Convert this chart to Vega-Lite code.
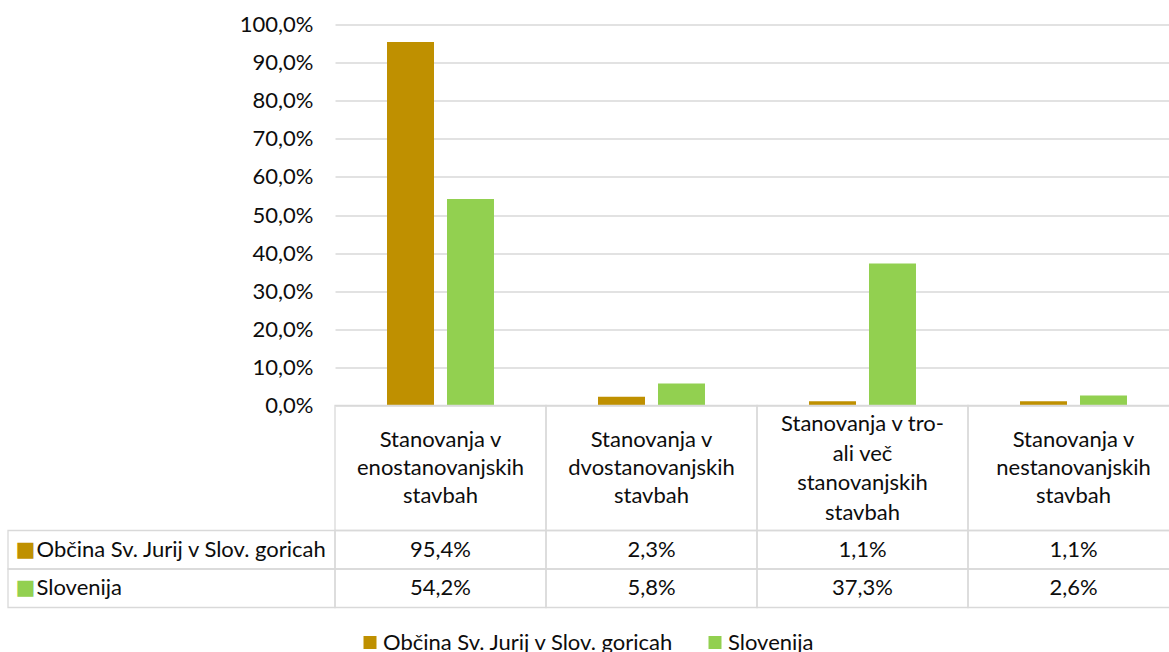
{
  "$schema": "https://vega.github.io/schema/vega-lite/v6.json",
  "padding": {"left": 7, "top": 13.5, "right": 0, "bottom": 0},
  "autosize": {"type": "pad"},
  "background": "white",
  "config": {
    "locale": {"number": {"decimal": ",", "thousands": ".", "grouping": [3], "currency": ["", " €"]}},
    "view": {"stroke": null},
    "font": "Lato",
    "concat": {"spacing": 0}
  },
  "datasets": {
    "bars": [
      {"kategorija": "Stanovanja v enostanovanjskih stavbah", "serija": "Občina Sv. Jurij v Slov. goricah", "delez": 0.954},
      {"kategorija": "Stanovanja v dvostanovanjskih stavbah", "serija": "Občina Sv. Jurij v Slov. goricah", "delez": 0.023},
      {"kategorija": "Stanovanja v tro- ali več stanovanjskih stavbah", "serija": "Občina Sv. Jurij v Slov. goricah", "delez": 0.011},
      {"kategorija": "Stanovanja v nestanovanjskih stavbah", "serija": "Občina Sv. Jurij v Slov. goricah", "delez": 0.011},
      {"kategorija": "Stanovanja v enostanovanjskih stavbah", "serija": "Slovenija", "delez": 0.542},
      {"kategorija": "Stanovanja v dvostanovanjskih stavbah", "serija": "Slovenija", "delez": 0.058},
      {"kategorija": "Stanovanja v tro- ali več stanovanjskih stavbah", "serija": "Slovenija", "delez": 0.373},
      {"kategorija": "Stanovanja v nestanovanjskih stavbah", "serija": "Slovenija", "delez": 0.026}
    ],
    "kategorije": [
      {"kategorija": "Stanovanja v enostanovanjskih stavbah", "naslov": "Stanovanja v\nenostanovanjskih\nstavbah"},
      {"kategorija": "Stanovanja v dvostanovanjskih stavbah", "naslov": "Stanovanja v\ndvostanovanjskih\nstavbah"},
      {"kategorija": "Stanovanja v tro- ali več stanovanjskih stavbah", "naslov": "Stanovanja v tro-\nali več\nstanovanjskih\nstavbah"},
      {"kategorija": "Stanovanja v nestanovanjskih stavbah", "naslov": "Stanovanja v\nnestanovanjskih\nstavbah"}
    ],
    "serije": [
      {"serija": "Občina Sv. Jurij v Slov. goricah"},
      {"serija": "Slovenija"}
    ],
    "prazno": [{"x": 1}]
  },
  "columns": 2,
  "bounds": "flush",
  "spacing": 0,
  "concat": [
    {
      "width": 327, "height": 381,
      "data": {"name": "prazno"},
      "mark": {"type": "text", "text": ""},
      "encoding": {}
    },
    {
      "width": 844, "height": 381,
      "data": {"name": "bars"},
      "mark": {"type": "bar"},
      "encoding": {
        "x": {"field": "kategorija", "type": "nominal", "sort": null, "scale": {"paddingInner": 0.493, "paddingOuter": 0.2465}, "axis": null},
        "xOffset": {"field": "serija", "type": "nominal", "sort": null, "scale": {"paddingInner": 0.2167, "paddingOuter": 0}},
        "y": {"field": "delez", "type": "quantitative", "scale": {"domain": [0, 1], "nice": false},
          "axis": {"values": [0, 0.1, 0.2, 0.3, 0.4, 0.5, 0.6, 0.7, 0.8, 0.9, 1], "format": ".1%", "title": null, "domain": false, "ticks": false,
            "labelPadding": 22, "labelFontSize": 22, "labelColor": "#0d0d0d", "gridColor": "#d9d9d9", "gridWidth": 1.3}},
        "color": {"field": "serija", "type": "nominal",
          "scale": {"domain": ["Občina Sv. Jurij v Slov. goricah", "Slovenija"], "range": ["#BF9000", "#92D050"]},
          "legend": {"orient": "none", "legendX": 351, "legendY": 607, "direction": "horizontal", "title": null,
            "symbolType": "square", "symbolSize": 169, "symbolStrokeWidth": 0, "labelFontSize": 22, "labelColor": "#0d0d0d",
            "columnPadding": 30, "labelOffset": 2, "labelLimit": 500}}
      }
    },
    {
      "width": 327, "height": 125,
      "data": {"name": "prazno"},
      "mark": {"type": "text", "text": ""},
      "encoding": {}
    },
    {
      "width": 844, "height": 125,
      "data": {"name": "kategorije"},
      "layer": [
        {
          "mark": {"type": "rect", "fill": null, "stroke": "#d9d9d9", "strokeWidth": 1.3},
          "encoding": {
            "x": {"field": "kategorija", "type": "nominal", "sort": null, "scale": {"paddingInner": 0, "paddingOuter": 0}, "axis": null}
          }
        },
        {
          "transform": [{"filter": "split(datum.naslov, '\\n').length === 3"}],
          "mark": {"type": "text", "fontSize": 22, "lineHeight": 28, "lineBreak": "\n", "baseline": "middle", "align": "center", "color": "#0d0d0d", "dy": -28},
          "encoding": {
            "x": {"field": "kategorija", "type": "nominal", "sort": null, "axis": null},
            "text": {"field": "naslov", "type": "nominal"}
          }
        },
        {
          "transform": [{"filter": "split(datum.naslov, '\\n').length === 4"}],
          "mark": {"type": "text", "fontSize": 22, "lineHeight": 29.5, "lineBreak": "\n", "baseline": "middle", "align": "center", "color": "#0d0d0d", "dy": -44},
          "encoding": {
            "x": {"field": "kategorija", "type": "nominal", "sort": null, "axis": null},
            "text": {"field": "naslov", "type": "nominal"}
          }
        }
      ]
    },
    {
      "width": 327, "height": 77,
      "data": {"name": "serije"},
      "mark": {"type": "rect", "fill": null, "stroke": "#d9d9d9", "strokeWidth": 1.3},
      "encoding": {
        "y": {"field": "serija", "type": "nominal", "sort": null, "scale": {"paddingInner": 0, "paddingOuter": 0}, "axis": null}
      }
    },
    {
      "width": 844, "height": 77,
      "data": {"name": "bars"},
      "layer": [
        {
          "mark": {"type": "rect", "fill": null, "stroke": "#d9d9d9", "strokeWidth": 1.3},
          "encoding": {
            "x": {"field": "kategorija", "type": "nominal", "sort": null, "scale": {"paddingInner": 0, "paddingOuter": 0}, "axis": null},
            "y": {"field": "serija", "type": "nominal", "sort": null, "scale": {"paddingInner": 0, "paddingOuter": 0},
              "axis": {"orient": "left", "title": null, "domain": false, "ticks": false, "labelAlign": "left", "labelBaseline": "middle",
                "labelPadding": 299, "labelFontSize": 22, "labelColor": "#0d0d0d", "labelLimit": 500}}
          }
        },
        {
          "mark": {"type": "text", "fontSize": 22, "baseline": "middle", "align": "center", "color": "#0d0d0d"},
          "encoding": {
            "x": {"field": "kategorija", "type": "nominal", "sort": null, "axis": null},
            "y": {"field": "serija", "type": "nominal", "sort": null,
              "axis": {"orient": "left", "title": null, "domain": false, "ticks": false, "labelAlign": "left", "labelBaseline": "middle",
                "labelPadding": 320, "labelFont": "DejaVu Sans", "labelFontSize": 21, "labelExpr": "'■'",
                "labelColor": {"condition": {"test": "datum.value === 'Slovenija'", "value": "#92D050"}, "value": "#BF9000"}}},
            "text": {"field": "delez", "type": "quantitative", "format": ".1%"}
          }
        }
      ],
      "resolve": {"axis": {"y": "independent"}}
    }
  ]
}
